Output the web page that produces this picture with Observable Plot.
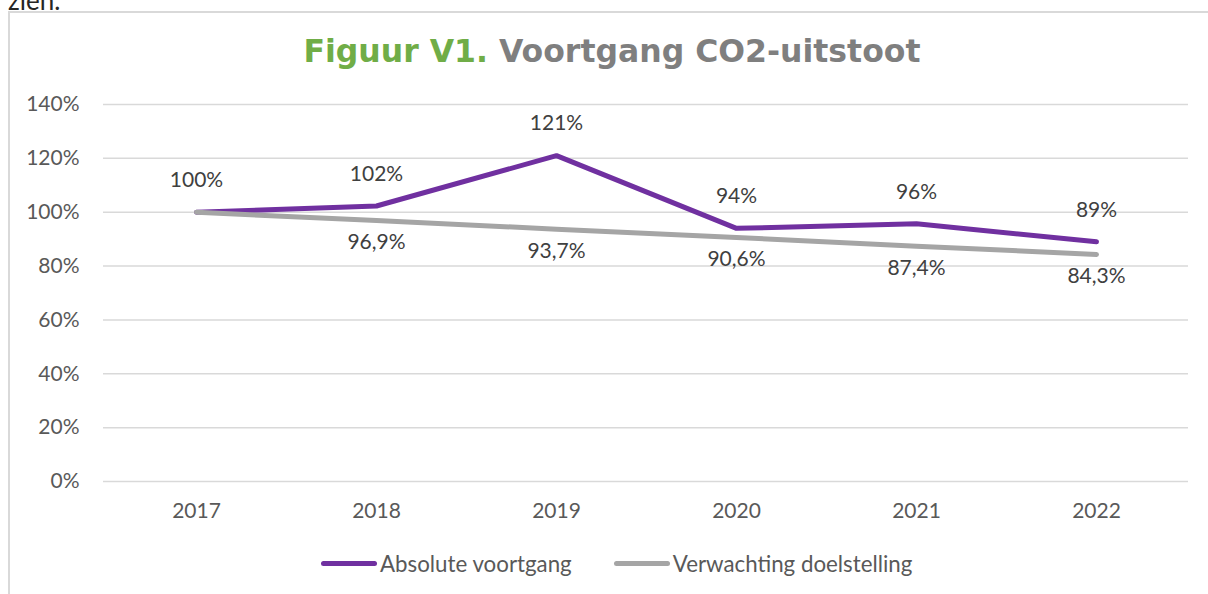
<!DOCTYPE html>
<html>
<head>
<meta charset="utf-8">
<script src="https://cdn.jsdelivr.net/npm/d3@7"></script>
<script src="https://cdn.jsdelivr.net/npm/@observablehq/plot@0.6"></script>
<style>
  html, body { margin: 0; padding: 0; background: #fff; width: 1208px; height: 594px; overflow: hidden; }
  #above { position: absolute; left: 8px; top: -16px; font-family: Lato, sans-serif; font-size: 26px; color: #262626; white-space: nowrap; }
  #frame { position: absolute; left: 8px; top: 11px; width: 1260px; height: 620px; border: 2px solid #D9D9D9; box-sizing: border-box; }
  #title { position: absolute; left: 0; top: 33px; width: 1224px; text-align: center; font-family: "DejaVu Sans", Verdana, sans-serif; font-weight: bold; font-size: 31.5px; white-space: nowrap; }
  #chart { position: absolute; left: 0; top: 90px; }
  #legend { position: absolute; left: 321px; top: 550px; display: flex; justify-content: flex-start; font-family: Lato, sans-serif; font-size: 22.3px; color: #595959; white-space: nowrap; }
  .item { display: flex; align-items: center; margin-right: 42px; }
  .sw { width: 56px; height: 5px; border-radius: 3px; margin-right: 3px; }
</style>
</head>
<body>
<div id="above">zien.</div>
<div id="frame"></div>
<div id="title"><span style="color:#70AD47">Figuur V1.</span> <span style="color:#7F7F7F">Voortgang CO2-uitstoot</span></div>
<div id="chart"></div>
<div id="legend"></div>
<script>
const years = ["2017", "2018", "2019", "2020", "2021", "2022"];
const absolute = [100, 102.3, 121, 94, 95.7, 89];
const absoluteLabels = ["100%", "102%", "121%", "94%", "96%", "89%"];
const target = [100, 96.9, 93.7, 90.6, 87.4, 84.3];
const targetLabels = ["", "96,9%", "93,7%", "90,6%", "87,4%", "84,3%"];
const yTicks = [0, 20, 40, 60, 80, 100, 120, 140];
const seriesNames = ["Absolute voortgang", "Verwachting doelstelling"];
const seriesColors = ["#7030A0", "#A5A5A5"];

const absData = years.map((y, i) => ({year: y, value: absolute[i], label: absoluteLabels[i]}));
const tgtData = years.map((y, i) => ({year: y, value: target[i], label: targetLabels[i]}));

const chart = Plot.plot({
  width: 1208,
  height: 450,
  marginLeft: 103,
  marginRight: 20,
  marginTop: 14,
  marginBottom: 59,
  style: {fontFamily: "Lato, sans-serif", fontSize: "21px", color: "#595959", background: "transparent", overflow: "visible"},
  x: {type: "point", domain: years, padding: 0.5, label: null},
  y: {domain: [0, 140], label: null},
  marks: [
    Plot.gridY(yTicks, {stroke: "#D9D9D9", strokeOpacity: 1, strokeWidth: 1.5}),
    Plot.axisY(yTicks, {tickSize: 0, tickPadding: 24, tickFormat: d => d + "%", fill: "#595959", fontSize: 21}),
    Plot.axisX({tickSize: 0, tickPadding: 22, fill: "#595959", fontSize: 21}),
    Plot.line(absData, {x: "year", y: "value", stroke: seriesColors[0], strokeWidth: 5, strokeLinecap: "round", strokeLinejoin: "round"}),
    Plot.line(tgtData, {x: "year", y: "value", stroke: seriesColors[1], strokeWidth: 5, strokeLinecap: "round", strokeLinejoin: "round"}),
    Plot.text(absData, {x: "year", y: "value", text: "label", dy: -32, fill: "#404040", fontSize: 21}),
    Plot.text(tgtData, {x: "year", y: "value", text: "label", dy: 22, fill: "#404040", fontSize: 21})
  ]
});
document.getElementById("chart").appendChild(chart);

const legend = document.getElementById("legend");
seriesNames.forEach((n, i) => {
  const it = document.createElement("div");
  it.className = "item";
  const sw = document.createElement("div");
  sw.className = "sw";
  sw.style.background = seriesColors[i];
  const t = document.createElement("span");
  t.textContent = n;
  it.appendChild(sw); it.appendChild(t);
  legend.appendChild(it);
});
</script>
</body>
</html>
